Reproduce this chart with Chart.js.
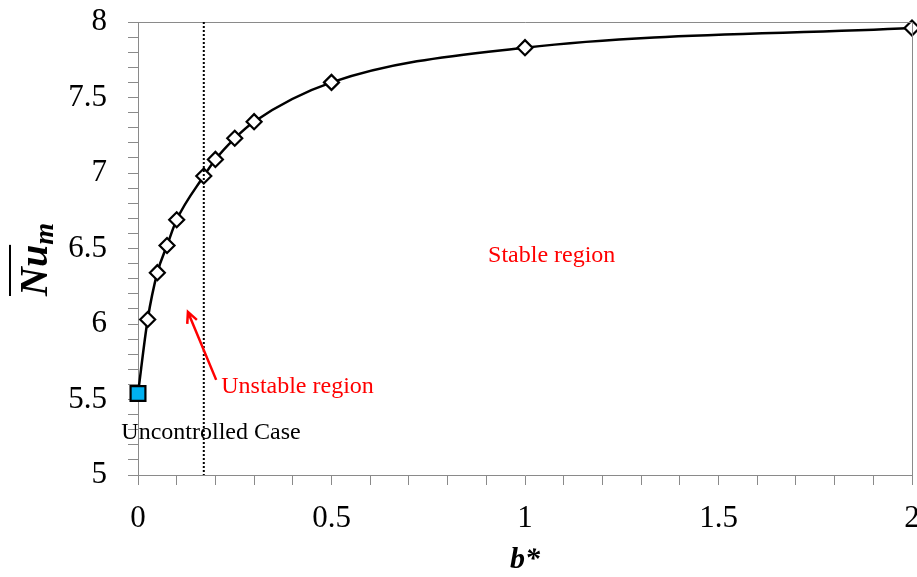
<!DOCTYPE html>
<html>
<head>
<meta charset="utf-8">
<script src="https://cdn.jsdelivr.net/npm/chart.js@4.4.1/dist/chart.umd.min.js"></script>
<style>
  body { margin: 0; background: #fff; }
  #wrap { width: 917px; height: 577px; position: relative; }
</style>
</head>
<body>
<div id="wrap"><canvas id="grafico"></canvas></div>
<script>
// dados: b* x Nu medio
const bStar  = [0, 0.025, 0.05, 0.075, 0.1, 0.17, 0.2, 0.25, 0.3, 0.5, 1, 2];
const nuMean = [5.54, 6.03, 6.34, 6.52, 6.69, 6.98, 7.09, 7.23, 7.34, 7.60, 7.83, 7.96];
const bCritico = 0.17;          // limite entre regiao instavel e estavel
const xTickLabels = [0, 0.5, 1, 1.5, 2];
const yTickLabels = [5, 5.5, 6, 6.5, 7, 7.5, 8];

const serif = "'Liberation Serif', 'Times New Roman', serif";
const cinza = '#8a8a8a';

// primeiro ponto = caso sem controle (quadrado azul), resto losangos
const estilos = bStar.map((b, i) => i === 0 ? 'rect' : 'rectRot');
const raios = bStar.map((b, i) => i === 0 ? 10.5 : 7.5);
const fundos = bStar.map((b, i) => i === 0 ? '#00b0f0' : '#ffffff');

function mostraRotulo(lista) {
  return v => lista.some(t => Math.abs(t - v) < 1e-6) ? String(v) : '';
}

// tira o espaco extra que o chart.js reserva para os rotulos das pontas
function semPadding(s, tamanho) {
  s.paddingTop = s.paddingBottom = s.paddingLeft = s.paddingRight = 0;
  if (s.isHorizontal()) s.height = tamanho; else s.width = tamanho;
}

// moldura, linha pontilhada, textos e seta
const anotacoes = {
  id: 'anotacoes',
  afterDatasetsDraw(chart) {
    const { ctx, chartArea: a, scales: { x, y } } = chart;
    ctx.save();

    ctx.strokeStyle = cinza;
    ctx.lineWidth = 1;
    ctx.beginPath();
    ctx.moveTo(a.left, a.top + 0.5);
    ctx.lineTo(a.right + 0.5, a.top + 0.5);
    ctx.lineTo(a.right + 0.5, a.bottom);
    ctx.stroke();

    const xc = x.getPixelForValue(bCritico);
    ctx.strokeStyle = '#000';
    ctx.lineWidth = 2;
    ctx.setLineDash([2, 2]);
    ctx.beginPath();
    ctx.moveTo(xc, a.top);
    ctx.lineTo(xc, a.bottom);
    ctx.stroke();
    ctx.setLineDash([]);

    ctx.font = '24px ' + serif;
    ctx.textBaseline = 'middle';
    ctx.fillStyle = '#ff0000';
    ctx.textAlign = 'center';
    ctx.fillText('Stable region', x.getPixelForValue(1.069), y.getPixelForValue(6.45));
    ctx.textAlign = 'left';
    ctx.fillText('Unstable region', x.getPixelForValue(0.215), y.getPixelForValue(5.585));
    ctx.fillStyle = '#000';
    ctx.fillText('Uncontrolled Case', x.getPixelForValue(-0.043), y.getPixelForValue(5.28));

    // seta
    const x0 = x.getPixelForValue(0.202), y0 = y.getPixelForValue(5.63);
    const x1 = x.getPixelForValue(0.129), y1 = y.getPixelForValue(6.08);
    const ang = Math.atan2(y1 - y0, x1 - x0);
    ctx.strokeStyle = '#ff0000';
    ctx.lineWidth = 2.5;
    ctx.beginPath();
    ctx.moveTo(x0, y0);
    ctx.lineTo(x1, y1);
    ctx.moveTo(x1 - 12 * Math.cos(ang - 0.45), y1 - 12 * Math.sin(ang - 0.45));
    ctx.lineTo(x1, y1);
    ctx.lineTo(x1 - 12 * Math.cos(ang + 0.45), y1 - 12 * Math.sin(ang + 0.45));
    ctx.stroke();

    // titulo do eixo y: Nu com barra e subscrito m
    ctx.translate(47, 296);
    ctx.rotate(-Math.PI / 2);
    ctx.fillStyle = '#000';
    ctx.textAlign = 'left';
    ctx.textBaseline = 'alphabetic';
    ctx.font = 'italic bold 40px ' + serif;
    const wNu = ctx.measureText('Nu').width;
    ctx.fillText('Nu', 0, 0);
    ctx.fillRect(0, -38, wNu, 2);
    ctx.font = 'italic bold 28px ' + serif;
    ctx.fillText('m', wNu, 6);

    ctx.restore();
  }
};

const ctx = document.getElementById('grafico').getContext('2d');
const chart = new Chart(ctx, {
  type: 'scatter',
  data: {
    datasets: [{
      label: 'Nu',
      data: bStar.map((b, i) => ({ x: b, y: nuMean[i] })),
      showLine: true,
      borderColor: '#000',
      borderWidth: 2.5,
      cubicInterpolationMode: 'monotone',
      pointStyle: estilos,
      pointRadius: raios,
      pointHoverRadius: raios,
      pointBackgroundColor: fundos,
      pointBorderColor: '#000',
      pointBorderWidth: 2.2,
      clip: false
    }]
  },
  options: {
    responsive: true,
    maintainAspectRatio: false,
    animation: false,
    layout: { autoPadding: false, padding: { top: 22, right: 5, left: 0, bottom: 0 } },
    plugins: { legend: { display: false }, tooltip: { enabled: false } },
    scales: {
      x: {
        type: 'linear', min: 0, max: 2,
        afterFit: s => semPadding(s, 102),
        border: { color: cinza, width: 1 },
        grid: { drawOnChartArea: false, drawTicks: true, tickLength: 10, color: cinza },
        ticks: {
          stepSize: 0.1, autoSkip: false, maxRotation: 0,
          padding: 15, color: '#000',
          font: { family: serif, size: 31 },
          callback: mostraRotulo(xTickLabels)
        },
        title: {
          display: true, text: 'b*', color: '#000',
          font: { family: serif, size: 30, style: 'italic', weight: 'bold', lineHeight: 1 },
          padding: { top: 0, bottom: 2 }
        }
      },
      y: {
        min: 5, max: 8,
        afterFit: s => semPadding(s, 138),
        border: { color: cinza, width: 1 },
        grid: { drawOnChartArea: false, drawTicks: true, tickLength: 10, color: cinza },
        ticks: {
          stepSize: 0.1, autoSkip: false,
          padding: 21, color: '#000',
          font: { family: serif, size: 31 },
          callback: mostraRotulo(yTickLabels)
        }
      }
    }
  },
  plugins: [anotacoes]
});
</script>
</body>
</html>
